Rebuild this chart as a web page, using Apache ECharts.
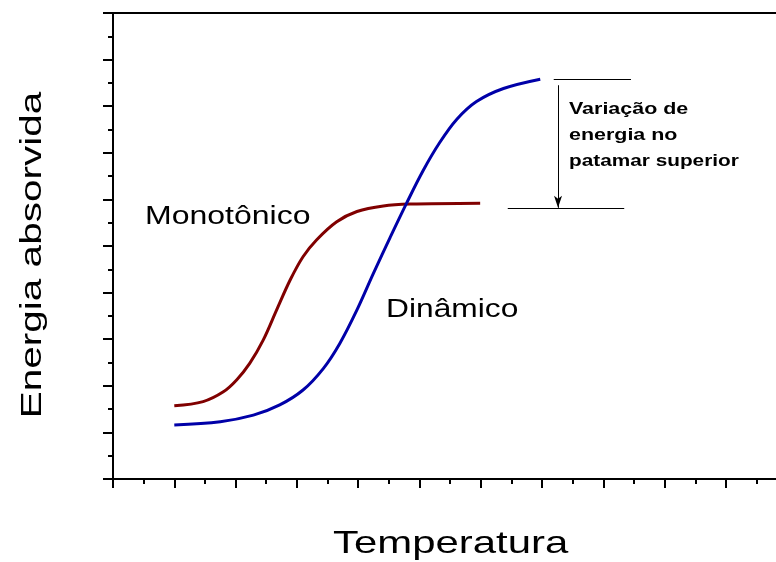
<!DOCTYPE html>
<html>
<head>
<meta charset="utf-8">
<script src="https://cdn.jsdelivr.net/npm/echarts@6/dist/echarts.min.js"></script>
<style>
html,body{margin:0;padding:0;background:#fff;}
#chart{width:776px;height:562px;}
</style>
</head>
<body>
<div id="chart"></div>
<script>
// ---- data ----
const monotonicoX = [1.00, 1.47, 1.80, 2.02, 2.23, 2.45, 2.67, 2.89, 3.10, 3.32, 3.65, 3.98, 4.41, 4.85, 5.99];
const monotonicoY = [1.57, 1.66, 1.87, 2.13, 2.48, 2.98, 3.63, 4.27, 4.77, 5.13, 5.52, 5.74, 5.86, 5.90, 5.92];
const dinamicoX = [1.00, 1.75, 2.29, 2.72, 3.10, 3.43, 3.70, 3.98, 4.25, 4.52, 4.79, 5.06, 5.33, 5.61, 5.93, 6.37, 6.97];
const dinamicoY = [1.16, 1.23, 1.37, 1.59, 1.91, 2.37, 2.91, 3.63, 4.42, 5.18, 5.92, 6.62, 7.22, 7.72, 8.10, 8.38, 8.58];
const xMajorTicks = [0, 1, 2, 3, 4, 5, 6, 7, 8, 9, 10];
const upperLevel = 8.58;
const upperLineX = [7.19, 8.45];
const lowerLevel = 5.82;
const lowerLineX = [6.44, 8.34];
const arrowX = 7.26;
const arrowTopY = 8.45;
const xTitle = 'Temperatura';
const yTitle = 'Energia absorvida';
const seriesNames = ['Monotônico', 'Dinâmico'];
const noteLines = ['Variação de', 'energia no', 'patamar superior'];

const pairs = (xs, ys) => xs.map((x, i) => [x, ys[i]]);
const FONT = '"Liberation Sans", Arial, sans-serif';
const chart = echarts.init(document.getElementById('chart'), null, {renderer: 'canvas'});

const axisLineStyle = {color: '#000', width: 2};
const X_MAX = 10.816;
const option = {
  animation: false,
  grid: {left: 113, top: 13, right: 0, bottom: 83},
  xAxis: [{
    type: 'value', min: 0, max: X_MAX, interval: 1,
    axisLine: {show: true, onZero: false, lineStyle: axisLineStyle},
    axisTick: {show: true, length: 9, customValues: xMajorTicks, lineStyle: {color: '#000', width: 2}},
    minorTick: {show: true, splitNumber: 2, length: 5, lineStyle: {color: '#000', width: 2}},
    axisLabel: {show: false}, splitLine: {show: false}
  }, {
    type: 'value', min: 0, max: X_MAX, position: 'top',
    axisLine: {show: true, onZero: false, lineStyle: axisLineStyle},
    axisTick: {show: false}, axisLabel: {show: false}, splitLine: {show: false}
  }],
  yAxis: {
    type: 'value', min: 0, max: 10, interval: 1,
    axisLine: {show: true, onZero: false, lineStyle: axisLineStyle},
    axisTick: {show: true, length: 10, lineStyle: {color: '#000', width: 2}},
    minorTick: {show: true, splitNumber: 2, length: 5, lineStyle: {color: '#000', width: 2}},
    axisLabel: {show: false}, splitLine: {show: false}
  },
  series: [{
    name: seriesNames[0], type: 'line', data: pairs(monotonicoX, monotonicoY),
    showSymbol: false, smooth: 0.35, silent: true,
    lineStyle: {color: '#800000', width: 3}
  }, {
    name: seriesNames[1], type: 'line', data: pairs(dinamicoX, dinamicoY),
    showSymbol: false, smooth: 0.35, silent: true,
    lineStyle: {color: '#0000A8', width: 3},
    markLine: {
      silent: true, animation: false,
      label: {show: false},
      emphasis: {disabled: true},
      lineStyle: {color: '#000', width: 1, type: 'solid'},
      symbol: 'none',
      data: [
        [{coord: [upperLineX[0], upperLevel], symbol: 'none'}, {coord: [upperLineX[1], upperLevel], symbol: 'none'}],
        [{coord: [lowerLineX[0], lowerLevel], symbol: 'none'}, {coord: [lowerLineX[1], lowerLevel], symbol: 'none'}],
        [{coord: [arrowX, arrowTopY], symbol: 'none'}, {coord: [arrowX, lowerLevel], symbol: 'arrow', symbolSize: [6, 12]}]
      ]
    }
  }],
  graphic: [
    {type: 'text', x: 145, y: 217, scaleX: 1.28, silent: true,
     style: {text: seriesNames[0], font: '25px ' + FONT, fill: '#000', textAlign: 'left', textVerticalAlign: 'middle'}},
    {type: 'text', x: 386, y: 310, scaleX: 1.27, silent: true,
     style: {text: seriesNames[1], font: '25px ' + FONT, fill: '#000', textAlign: 'left', textVerticalAlign: 'middle'}},
    {type: 'text', x: 333, y: 544, scaleX: 1.31, silent: true,
     style: {text: xTitle, font: '32px ' + FONT, fill: '#000', textAlign: 'left', textVerticalAlign: 'middle'}},
    {type: 'text', x: 33, y: 255, rotation: Math.PI / 2, scaleX: 1.35, silent: true,
     style: {text: yTitle, font: '30px ' + FONT, fill: '#000', textAlign: 'center', textVerticalAlign: 'middle'}},
    {type: 'text', x: 569, y: 109, scaleX: 1.3, silent: true,
     style: {text: noteLines[0], font: 'bold 16.5px ' + FONT, fill: '#000', textAlign: 'left', textVerticalAlign: 'middle'}},
    {type: 'text', x: 569, y: 135, scaleX: 1.3, silent: true,
     style: {text: noteLines[1], font: 'bold 16.5px ' + FONT, fill: '#000', textAlign: 'left', textVerticalAlign: 'middle'}},
    {type: 'text', x: 569, y: 161, scaleX: 1.26, silent: true,
     style: {text: noteLines[2], font: 'bold 16.5px ' + FONT, fill: '#000', textAlign: 'left', textVerticalAlign: 'middle'}}
  ]
};
chart.setOption(option);
</script>
</body>
</html>
